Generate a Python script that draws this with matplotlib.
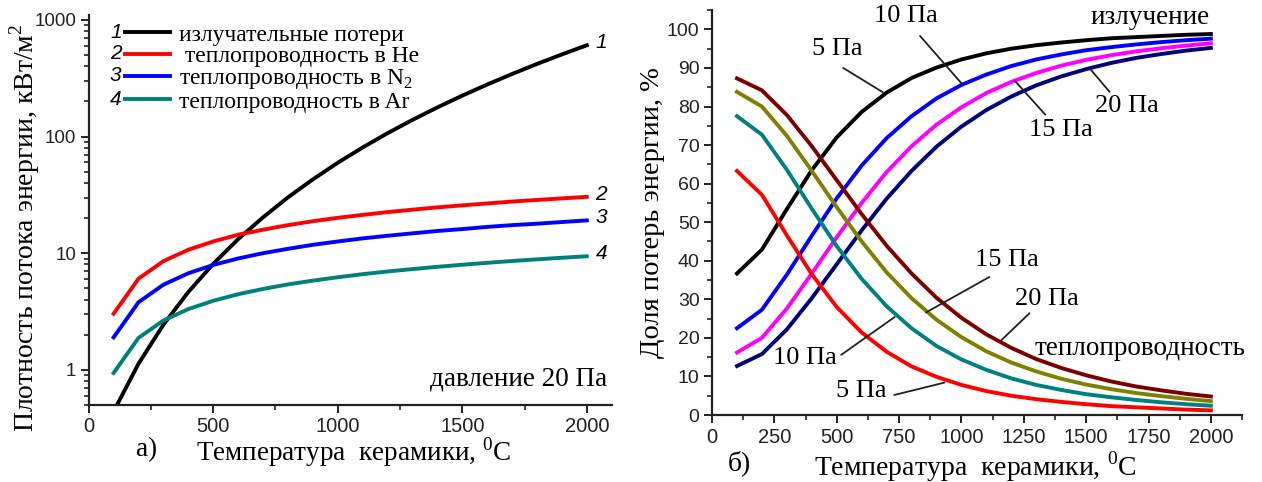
import numpy as np
import matplotlib
matplotlib.use('Agg')
import matplotlib.pyplot as plt
from matplotlib.ticker import MultipleLocator, LogLocator, NullFormatter, FixedLocator

plt.rcParams['font.family'] = ['Liberation Serif', 'DejaVu Serif']
plt.rcParams['mathtext.fontset'] = 'custom'
plt.rcParams['mathtext.rm'] = 'Liberation Serif'

# температура керамики, C
temp = [100, 200, 300, 400, 500, 600, 700, 800, 900, 1000,
        1100, 1200, 1300, 1400, 1500, 1600, 1700, 1800, 1900, 2000]

# а) плотность потока энергии, кВт/м2 (давление 20 Па)
q_rad = [0.44, 1.13, 2.44, 4.65, 8.10, 13.2, 20.3, 30.1, 42.9, 59.6,
         80.6, 106.8, 138.9, 177.7, 224.1, 279.1, 343.7, 418.8, 505.7, 605.4]
q_he = [3.03, 6.05, 8.55, 10.7, 12.6, 14.4, 15.9, 17.4, 18.8, 20.1,
        21.3, 22.5, 23.6, 24.7, 25.7, 26.7, 27.7, 28.6, 29.5, 30.4]
q_n2 = [1.90, 3.80, 5.37, 6.73, 7.93, 9.01, 10.0, 10.9, 11.8, 12.6,
        13.4, 14.1, 14.8, 15.5, 16.1, 16.8, 17.4, 17.9, 18.5, 19.1]
q_ar = [0.94, 1.88, 2.65, 3.32, 3.91, 4.45, 4.94, 5.40, 5.82, 6.22,
        6.61, 6.97, 7.31, 7.64, 7.96, 8.27, 8.57, 8.86, 9.14, 9.41]
legend_labels = ['излучательные потери', ' теплопроводность в He',
                 'теплопроводность в N$_2$', 'теплопроводность в Ar']

# б) доля потерь энергии, %
rad5 = [36.7, 42.9, 53.4, 63.5, 72.0, 78.6, 83.6, 87.4, 90.1, 92.2,
        93.8, 95.0, 95.9, 96.6, 97.2, 97.7, 98.0, 98.3, 98.6, 98.8]
rad10 = [22.5, 27.3, 36.4, 46.5, 56.2, 64.7, 71.8, 77.5, 82.1, 85.6,
         88.3, 90.5, 92.2, 93.5, 94.6, 95.4, 96.1, 96.7, 97.2, 97.6]
rad15 = [16.2, 20.0, 27.6, 36.7, 46.1, 55.0, 63.0, 69.7, 75.3, 79.8,
         83.5, 86.4, 88.7, 90.6, 92.1, 93.3, 94.3, 95.1, 95.8, 96.4]
rad20 = [12.7, 15.8, 22.2, 30.3, 39.1, 47.9, 56.1, 63.3, 69.6, 74.8,
         79.1, 82.6, 85.5, 87.8, 89.7, 91.3, 92.6, 93.6, 94.5, 95.2]
cond5 = [63.3, 57.1, 46.6, 36.5, 28.0, 21.4, 16.4, 12.6, 9.9, 7.8,
         6.2, 5.0, 4.1, 3.4, 2.8, 2.3, 2.0, 1.7, 1.4, 1.2]
cond10 = [77.5, 72.7, 63.6, 53.5, 43.8, 35.3, 28.2, 22.5, 17.9, 14.4,
          11.7, 9.5, 7.8, 6.5, 5.4, 4.6, 3.9, 3.3, 2.8, 2.4]
cond15 = [83.8, 80.0, 72.4, 63.3, 53.9, 45.0, 37.0, 30.3, 24.7, 20.2,
          16.5, 13.6, 11.3, 9.4, 7.9, 6.7, 5.7, 4.9, 4.2, 3.6]
cond20 = [87.3, 84.2, 77.8, 69.7, 60.9, 52.1, 43.9, 36.7, 30.4, 25.2,
          20.9, 17.4, 14.5, 12.2, 10.3, 8.7, 7.4, 6.4, 5.5, 4.8]

sans = ['Liberation Sans', 'DejaVu Sans']
xlab = 'Температура  керамики, $^0$C'

fig = plt.figure(figsize=(12.62, 4.82), dpi=100)

# ---------------- а) ----------------
ax1 = fig.add_axes([0.0703, 0.1598, 0.4144, 0.809])
lw = 2.8
l1, = ax1.plot(temp, q_rad, color='black', lw=lw)
l2, = ax1.plot(temp, q_he, color='#ff0000', lw=lw)
l3, = ax1.plot(temp, q_n2, color='#0000ff', lw=lw)
l4, = ax1.plot(temp, q_ar, color='#00807a', lw=lw)
ax1.set_yscale('log')
ax1.set_xlim(0, 2100)
ax1.set_ylim(0.5, 1100)
ax1.xaxis.set_major_locator(FixedLocator([0, 500, 1000, 1500, 2000]))
ax1.xaxis.set_minor_locator(MultipleLocator(250))
ax1.yaxis.set_major_locator(FixedLocator([1, 10, 100, 1000]))
ax1.yaxis.set_minor_locator(LogLocator(subs=np.arange(2, 10)))
ax1.yaxis.set_minor_formatter(NullFormatter())
ax1.set_yticklabels(['1', '10', '100', '1000'])

for y, txt in zip([q_rad[-1], q_he[-1], q_n2[-1], q_ar[-1]], '1234'):
    ax1.text(temp[-1] + 35, y * 1.05, txt, fontsize=15, style='italic',
             family=sans, ha='left', va='center')

leg = ax1.legend([l1, l2, l3, l4], legend_labels, loc='upper left',
                 bbox_to_anchor=(0.069, 0.977), frameon=False, fontsize=17,
                 handlelength=1.9, handletextpad=0.38, labelspacing=0.0,
                 borderpad=0, borderaxespad=0)

ax1.text(2080, 0.84, 'давление 20 Па', fontsize=19.5, ha='right', va='center')
ax1.set_xlabel(xlab, fontsize=19.5)
ax1.xaxis.set_label_coords(0.507, -0.12)
ax1.xaxis.label.set_va('center')
ax1.set_ylabel('Плотность потока энергии, кВт/м$^2$', fontsize=20)
ax1.yaxis.set_label_coords(-0.122, 0.455)
ax1.yaxis.label.set_va('center')
ax1.text(0.111, -0.114, 'а)', transform=ax1.transAxes, fontsize=19.5,
         ha='center', va='center')

# ---------------- б) ----------------
ax2 = fig.add_axes([0.5642, 0.139, 0.42, 0.840])
lw2 = 2.8
ax2.plot(temp, rad5, color='black', lw=lw2)
ax2.plot(temp, rad10, color='#0000ff', lw=lw2)
ax2.plot(temp, rad15, color='#ff00ff', lw=lw2)
ax2.plot(temp, rad20, color='#000078', lw=lw2)
ax2.plot(temp, cond5, color='#ff0000', lw=lw2)
ax2.plot(temp, cond10, color='#008080', lw=lw2)
ax2.plot(temp, cond15, color='#808000', lw=lw2)
ax2.plot(temp, cond20, color='#7a0000', lw=lw2)
ax2.set_xlim(0, 2125)
ax2.set_ylim(0, 105)
ax2.xaxis.set_major_locator(FixedLocator(np.arange(0, 2001, 250)))
ax2.xaxis.set_minor_locator(MultipleLocator(125))
ax2.yaxis.set_major_locator(FixedLocator(np.arange(0, 101, 10)))
ax2.yaxis.set_minor_locator(MultipleLocator(5))

notes = [
    ('10 Па', (777, 103.5), (834, 98.3), (999, 86.1)),
    ('5 Па', (502, 94.8), (526, 90.0), (685, 83.7)),
    ('20 Па', (1663, 80.1), (1594, 83.8), (1514, 89.9)),
    ('15 Па', (1398, 74.0), (1336, 77.9), (1215, 86.6)),
    ('15 Па', (1182, 40.3), (1112, 35.8), (858, 26.6)),
    ('20 Па', (1344, 30.1), (1273, 26.4), (1160, 19.4)),
    ('10 Па', (372, 14.7), (518, 15.6), (732, 25.4)),
    ('5 Па', (599, 6.1), (731, 5.2), (932, 8.4)),
]
for txt, pos, a, b in notes:
    ax2.text(pos[0], pos[1], txt, fontsize=19, ha='center', va='center')
    ax2.annotate('', xy=b, xytext=a,
                 arrowprops=dict(arrowstyle='-', lw=1.3, color='#202020',
                                 shrinkA=0, shrinkB=0))
ax2.text(1757, 103, 'излучение', fontsize=19.5, ha='center', va='center')
ax2.text(1717, 17.3, 'теплопроводность', fontsize=19.5, ha='center', va='center')

ax2.set_xlabel(xlab, fontsize=20)
ax2.xaxis.set_label_coords(0.496, -0.128)
ax2.xaxis.label.set_va('center')
ax2.set_ylabel('Доля потерь энергии, %', fontsize=20.5)
ax2.yaxis.set_label_coords(-0.113, 0.5)
ax2.yaxis.label.set_va('center')
ax2.text(0.051, -0.118, 'б)', transform=ax2.transAxes, fontsize=20,
         ha='center', va='center')

for ax, xs, ys in ((ax1, 14.5, 13.5), (ax2, 14.5, 14)):
    for side in ('top', 'right'):
        ax.spines[side].set_visible(False)
    for side in ('left', 'bottom'):
        ax.spines[side].set_linewidth(1.6)
        ax.spines[side].set_color('#222222')
    ax.tick_params(which='major', direction='out', length=6, width=1.4,
                   color='#222222', pad=3)
    ax.tick_params(axis='x', labelsize=xs)
    ax.tick_params(axis='y', labelsize=ys)
    ax.tick_params(which='minor', direction='out', length=3.5, width=1.2,
                   color='#222222')
    for lab in ax.get_xticklabels() + ax.get_yticklabels():
        lab.set_family(sans)
        lab.set_color('#222222')

# номера кривых слева от линий легенды
fig.canvas.draw()
inv = ax1.transAxes.inverted()
for h, txt in zip(leg.legend_handles, '1234'):
    bb = h.get_window_extent(fig.canvas.get_renderer())
    x0, yc = inv.transform((bb.x0 - 9, (bb.y0 + bb.y1) / 2))
    ax1.text(x0, yc, txt, transform=ax1.transAxes, fontsize=15,
             style='italic', family=sans, ha='center', va='center')

plt.savefig('out.png', dpi=100)
